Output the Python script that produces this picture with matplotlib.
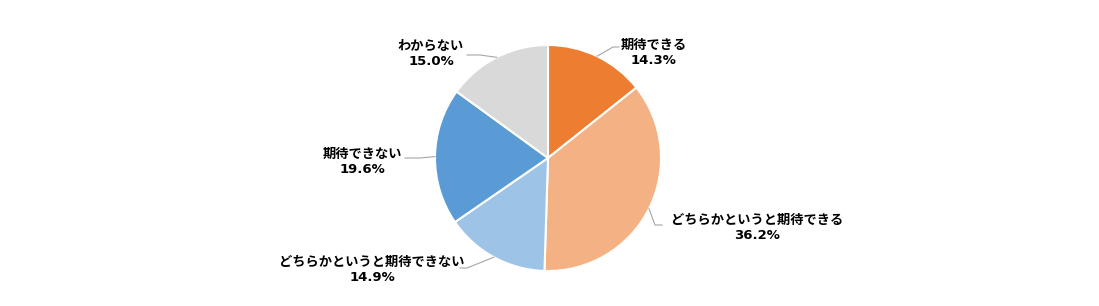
import matplotlib
matplotlib.use("Agg")
import matplotlib.pyplot as plt
import numpy as np

plt.rcParams['font.family'] = ['DejaVu Sans', 'Noto Sans CJK JP']

categories = ["期待できる", "どちらかというと期待できる", "どちらかというと期待できない", "期待できない", "わからない"]
values = [14.3, 36.2, 14.9, 19.6, 15.0]
colors = ["#ED7D31", "#F4B183", "#9DC3E6", "#5B9BD5", "#D9D9D9"]

W, H = 1099, 306
CX, CY, R = 548, 158, 113

# label centres (pixels) and leader-line points (pixels): elbow, end
label_pos = [(654, 53), (757, 228), (372, 270), (362, 162), (431, 54)]
leader = [
    [(613, 47), (619, 47)],
    [(655, 225), (662, 225)],
    [(467, 268), (460, 268)],
    [(420, 158), (405, 158)],
    [(480, 55), (467, 55)],
]

def to_data(p):
    return ((p[0] - CX) / R, (CY - p[1]) / R)

fig = plt.figure(figsize=(W / 100, H / 100), dpi=100)
ax = fig.add_axes([0, 0, 1, 1])

wedges, _ = ax.pie(values, colors=colors, startangle=90, counterclock=False,
                   radius=1, center=(0, 0),
                   wedgeprops=dict(edgecolor='white', linewidth=1.5))

ax.set_xlim(-CX / R, (W - CX) / R)
ax.set_ylim(-(H - CY) / R, CY / R)
ax.set_aspect('equal')
ax.axis('off')

for w, cat, v, lp, ld in zip(wedges, categories, values, label_pos, leader):
    ang = np.deg2rad((w.theta1 + w.theta2) / 2)
    start = (np.cos(ang), np.sin(ang))
    pts = [start] + [to_data(p) for p in ld]
    xs = [p[0] for p in pts]
    ys = [p[1] for p in pts]
    ax.plot(xs, ys, color='#A6A6A6', linewidth=0.8, zorder=1)
    tx, ty = to_data(lp)
    ax.text(tx, ty, f"{cat}\n{v:.1f}%", ha='center', va='center',
            multialignment='center', fontsize=9.5, fontweight='bold',
            color='black', linespacing=1.15)

fig.savefig("out.png", dpi=100)
